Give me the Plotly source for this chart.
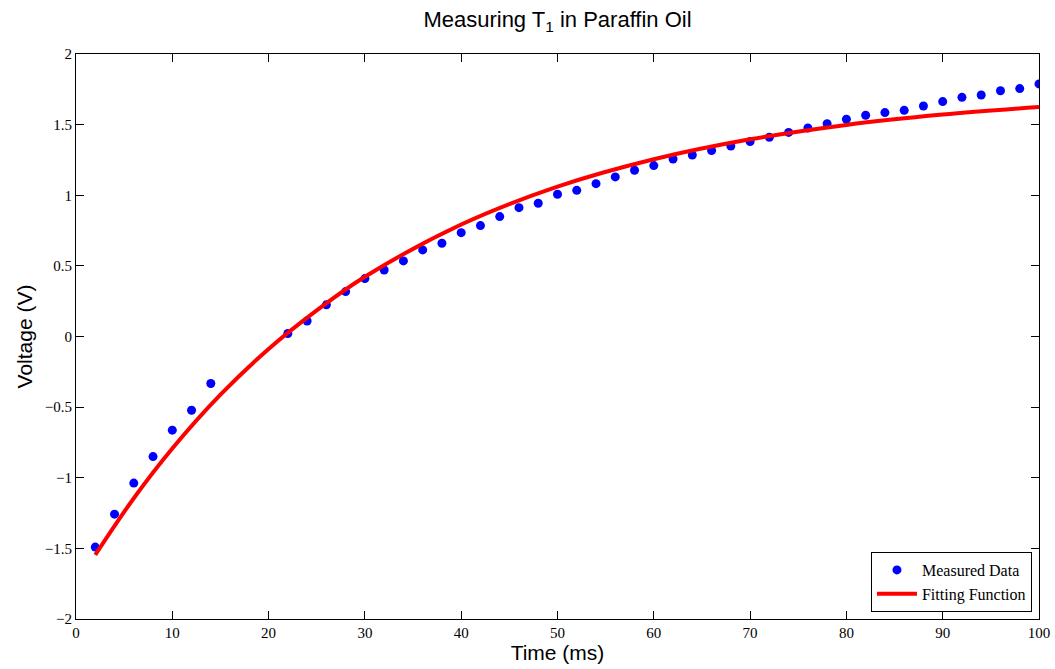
import plotly.graph_objects as go

# Measured recovery voltage vs. delay time
time_ms = [2, 4, 6, 8, 10, 12, 14,
           22, 24, 26, 28, 30, 32, 34, 36, 38, 40, 42, 44, 46, 48, 50,
           52, 54, 56, 58, 60, 62, 64, 66, 68, 70, 72, 74, 76, 78, 80,
           82, 84, 86, 88, 90, 92, 94, 96, 98, 100]
voltage_v = [-1.491, -1.258, -1.038, -0.850, -0.663, -0.522, -0.333,
             0.021, 0.110, 0.224, 0.318, 0.410, 0.471, 0.535, 0.613, 0.660, 0.735, 0.785, 0.849, 0.912, 0.943, 1.007,
             1.035, 1.082, 1.130, 1.177, 1.210, 1.257, 1.285, 1.317, 1.348, 1.380, 1.411, 1.445, 1.476, 1.507, 1.538,
             1.566, 1.585, 1.601, 1.632, 1.663, 1.693, 1.710, 1.740, 1.755, 1.788]

# Fitted exponential recovery curve, sampled
fit_t = [2, 6, 10, 15, 20, 25, 30, 40, 50, 60, 70, 80, 90, 100]
fit_v = [-1.546, -1.145, -0.793, -0.412, -0.088, 0.185, 0.423, 0.793, 1.061, 1.255, 1.396, 1.498, 1.571, 1.625]

x_ticks = [0, 10, 20, 30, 40, 50, 60, 70, 80, 90, 100]
y_ticks = [-2, -1.5, -1, -0.5, 0, 0.5, 1, 1.5, 2]

fig = go.Figure()
fig.add_trace(go.Scatter(
    x=time_ms, y=voltage_v, mode="markers", name="Measured Data",
    marker=dict(color="#0000ff", size=9, line=dict(width=0)),
))
fig.add_trace(go.Scatter(
    x=fit_t, y=fit_v, mode="lines", name="Fitting Function",
    line=dict(color="#ff0000", width=4, shape="spline"),
))

axis_common = dict(
    showgrid=False, zeroline=False, showline=True, linecolor="#000000", linewidth=1,
    mirror="ticks", ticks="inside", ticklen=8, tickcolor="#000000", tickwidth=1,
    tickfont=dict(family="Liberation Serif", size=15, color="#000000"),
    automargin=False,
)

fig.update_layout(
    width=1055, height=669,
    margin=dict(l=76, r=16, t=54, b=50),
    paper_bgcolor="white", plot_bgcolor="white",
    title=dict(text="Measuring T<sub>1</sub> in Paraffin Oil", xref="paper", x=0.5, xanchor="center",
               y=0.982, yanchor="top",
               font=dict(family="Liberation Sans", size=22, color="#000000")),
    xaxis=dict(range=[0, 100], tickvals=x_ticks,
               title=dict(text="Time (ms)", standoff=2,
                          font=dict(family="Liberation Sans", size=21, color="#000000")),
               **axis_common),
    yaxis=dict(range=[-2, 2], tickvals=y_ticks,
               ticktext=[("\u2212" + format(abs(v), "g")) if v < 0 else format(v, "g") for v in y_ticks],
               title=dict(text="Voltage (V)", standoff=6,
                          font=dict(family="Liberation Sans", size=21, color="#000000")),
               **axis_common),
    legend=dict(x=0.9927, y=0.0124, xanchor="right", yanchor="bottom",
                bgcolor="white", bordercolor="#000000", borderwidth=1,
                font=dict(family="Liberation Serif", size=16, color="#000000"),
                tracegroupgap=0, itemwidth=40),
    showlegend=True,
)

fig.write_html("out.html")
